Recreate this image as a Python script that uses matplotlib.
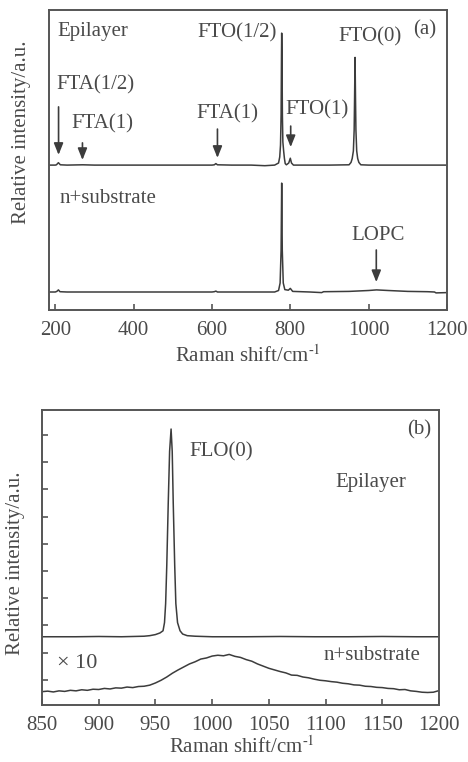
"""Raman spectra of epilayer and n+ substrate, panels (a) and (b)."""

import matplotlib
matplotlib.use("Agg")
import matplotlib.pyplot as plt
from matplotlib.ticker import MultipleLocator, FixedLocator

plt.rcParams['font.family'] = ['Liberation Serif', 'DejaVu Serif']
plt.rcParams['mathtext.fontset'] = 'stix'

INK = '#3c3c3c'
TXT = '#4a4a4a'
FS = 15

# ---- panel (a): full range spectra ----
a_epi_x = [184, 200, 203, 208, 213, 230, 270, 300, 400, 500, 600, 606, 610, 614, 650,
           700, 735, 760, 770, 773, 775, 776.5, 777.5, 778, 778.8, 779.8, 781, 783, 785,
           787, 790, 796, 800, 803, 808, 850, 900, 950, 955, 958, 961, 963, 964, 965.3,
           966.5, 967.5, 969.5, 972, 975, 980, 1000, 1050, 1100, 1150, 1200]
a_epi_y = [48.3, 48.3, 48.4, 49.1, 48.4, 48.3, 48.4, 48.3, 48.3, 48.3, 48.3, 48.4, 48.8,
           48.4, 48.3, 48.3, 48.1, 48.3, 49.0, 51.0, 55.0, 65.0, 85.0, 92.3, 85.0, 65.0,
           56.0, 53.0, 50.5, 48.8, 48.4, 49.0, 50.6, 49.0, 48.3, 48.3, 48.3, 48.4, 49.2,
           50.5, 53.0, 60.0, 70.0, 84.2, 70.0, 60.0, 53.0, 50.5, 49.2, 48.4, 48.3, 48.3,
           48.3, 48.3, 48.3]

a_sub_x = [184, 200, 204, 208, 212, 230, 400, 600, 606, 610, 614, 700, 760, 770, 774,
           776.5, 778, 779.5, 782, 786, 795, 800, 806, 850, 880, 885, 950, 1000, 1020,
           1050, 1100, 1150, 1168, 1172, 1200]
a_sub_y = [6.0, 6.0, 6.2, 6.7, 6.1, 6.0, 6.0, 6.0, 6.1, 6.3, 6.0, 6.0, 6.0, 6.5, 9.0,
           20.0, 42.3, 20.0, 9.0, 6.8, 6.6, 7.2, 6.2, 6.0, 5.8, 6.1, 6.2, 6.5, 6.7,
           6.5, 6.2, 6.1, 6.0, 5.7, 5.8]

# ---- panel (b): zoom around FLO(0) ----
b_epi_x = [850, 880, 900, 920, 940, 945, 950, 954, 956.7, 958, 959, 960, 961.3, 962.5,
           963.8, 964.8, 965.7, 967, 968, 969.5, 971.7, 974, 978, 985, 1000, 1030, 1060,
           1090, 1120, 1150, 1180, 1200]
b_epi_y = [1.58, 1.58, 1.59, 1.58, 1.60, 1.62, 1.66, 1.72, 1.80, 2.1, 2.8, 4.2, 6.5,
           8.4, 9.22, 8.4, 6.5, 4.2, 2.8, 2.1, 1.8, 1.68, 1.62, 1.60, 1.58, 1.58, 1.59,
           1.58, 1.58, 1.59, 1.58, 1.58]

b_sub_x = [850, 855, 860, 865, 870, 875, 880, 885, 890, 895, 900, 905, 910, 915, 920,
           925, 930, 935, 940, 945, 950, 955, 960, 965, 970, 975, 980, 985, 990, 995,
           1000, 1005, 1010, 1015, 1020, 1025, 1030, 1035, 1040, 1045, 1050, 1055, 1060,
           1065, 1070, 1075, 1080, 1085, 1090, 1095, 1100, 1105, 1110, 1115, 1120, 1125,
           1130, 1135, 1140, 1145, 1150, 1155, 1160, 1165, 1170, 1175, 1180, 1185, 1190,
           1195, 1200]
b_sub_y = [-0.44, -0.42, -0.45, -0.41, -0.43, -0.39, -0.41, -0.37, -0.39, -0.35, -0.36,
           -0.32, -0.34, -0.30, -0.31, -0.27, -0.29, -0.25, -0.24, -0.20, -0.12, -0.02,
           0.10, 0.24, 0.36, 0.47, 0.58, 0.66, 0.76, 0.80, 0.87, 0.90, 0.88, 0.93, 0.86,
           0.82, 0.74, 0.68, 0.58, 0.50, 0.42, 0.36, 0.30, 0.25, 0.17, 0.16, 0.10, 0.07,
           0.02, -0.02, -0.04, -0.07, -0.09, -0.13, -0.15, -0.19, -0.20, -0.24, -0.25,
           -0.28, -0.29, -0.32, -0.33, -0.37, -0.36, -0.41, -0.43, -0.46, -0.47, -0.46,
           -0.40]

a_xticks = [200, 400, 600, 800, 1000, 1200]
b_xticks = [850, 900, 950, 1000, 1050, 1100, 1150, 1200]


def style_axes(ax):
    for s in ax.spines.values():
        s.set_color('#555555')
        s.set_linewidth(1.4)
    ax.tick_params(direction='in', length=4, width=1.2, color='#555555',
                   labelsize=FS, labelcolor=TXT, pad=8)


def arrow(ax, x, y0, y1):
    ax.annotate('', xy=(x, y1), xytext=(x, y0),
                arrowprops=dict(arrowstyle='-|>,head_length=0.7,head_width=0.28',
                                color=INK, lw=1.2, shrinkA=0, shrinkB=0,
                                mutation_scale=10))


def main():
    W, H = 468, 762
    fig = plt.figure(figsize=(W / 100, H / 100), dpi=100)
    xlab = 'Raman shift/cm$^{\\mathregular{\u2010}1}$'

    # panel (a)
    ax = fig.add_axes([49 / W, 1 - 310 / H, (447 - 49) / W, 300 / H])
    ax.plot(a_epi_x, a_epi_y, color=INK, lw=1.1)
    ax.plot(a_sub_x, a_sub_y, color=INK, lw=1.1)
    ax.set_xlim(184, 1200)
    ax.set_ylim(0, 100)
    ax.xaxis.set_major_locator(FixedLocator(a_xticks))
    ax.set_yticks([])
    style_axes(ax)

    kw = dict(fontsize=FS, color=TXT, va='center', ha='left')
    ax.text(206, 92.7, 'Epilayer', **kw)
    ax.text(562, 92.3, 'FTO(1/2)', **kw)
    ax.text(923, 91.0, 'FTO(0)', **kw)
    ax.text(1113, 93.3, '(a)', **kw)
    ax.text(203, 75.0, 'FTA(1/2)', **kw)
    ax.text(241, 62.0, 'FTA(1)', **kw)
    ax.text(559, 65.3, 'FTA(1)', **kw)
    ax.text(788, 66.7, 'FTO(1)', **kw)
    ax.text(211, 37.3, 'n+substrate', **kw)
    ax.text(956, 25.0, 'LOPC', **kw)
    arrow(ax, 208.4, 67.7, 51.7)
    arrow(ax, 269.4, 55.7, 50.0)
    arrow(ax, 614, 60.3, 50.7)
    arrow(ax, 801, 61.3, 54.3)
    arrow(ax, 1019.5, 20.0, 9.3)

    fig.text(248 / W, 1 - 356 / H, xlab, fontsize=FS, color=TXT,
             ha='center', va='center')
    fig.text(22 / W, 1 - 132 / H, 'Relative intensity/a.u.', fontsize=FS, color=TXT,
             ha='center', va='center', rotation=90)

    # panel (b)
    bx = fig.add_axes([42 / W, 1 - 705 / H, (439 - 42) / W, 295 / H])
    bx.plot(b_epi_x, b_epi_y, color=INK, lw=1.1)
    bx.plot(b_sub_x, b_sub_y, color=INK, lw=1.1)
    bx.set_xlim(850, 1200)
    bx.set_ylim(-0.93, 9.92)
    bx.xaxis.set_major_locator(FixedLocator(b_xticks))
    bx.yaxis.set_major_locator(MultipleLocator(1))
    bx.set_yticklabels([])
    style_axes(bx)

    bx.text(979.6, 8.37, 'FLO(0)', **kw)
    bx.text(1108.4, 7.26, 'Epilayer', **kw)
    bx.text(1171.9, 9.18, '(b)', **kw)
    bx.text(863.2, 0.58, '\u00d7 10', fontsize=FS + 1, color=TXT, va='center', ha='left')
    bx.text(1097.8, 0.88, 'n+substrate', **kw)

    fig.text(242 / W, 1 - 747 / H, xlab, fontsize=FS, color=TXT,
             ha='center', va='center')
    fig.text(16 / W, 1 - 563 / H, 'Relative intensity/a.u.', fontsize=FS, color=TXT,
             ha='center', va='center', rotation=90)

    fig.savefig('out.png', dpi=100)


if __name__ == "__main__":
    main()
